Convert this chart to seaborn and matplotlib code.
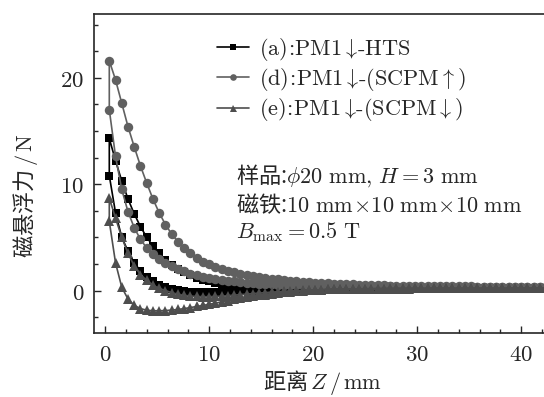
import numpy as np
import seaborn as sns
import matplotlib.pyplot as plt
from matplotlib.ticker import MultipleLocator, FuncFormatter

# distance grid (mm), measured every 0.6 mm
Z = np.round(0.4 + 0.6 * np.arange(71), 2)

# (a) PM1 down - HTS : approach (upper) and return (lower) branches
a_app = [14.3, 12.2, 10.3, 8.6, 7.2, 6.0, 5.0, 4.2, 3.5, 2.9,
         2.4, 2.0, 1.7, 1.45, 1.2, 1.0, 0.85, 0.74, 0.65, 0.58,
         0.52, 0.47, 0.43, 0.4, 0.37, 0.35, 0.33, 0.31, 0.3, 0.29,
         0.28, 0.27, 0.27, 0.26, 0.26, 0.25, 0.25, 0.24, 0.24, 0.24,
         0.23, 0.23, 0.23, 0.22, 0.22, 0.22, 0.22, 0.21, 0.21, 0.21,
         0.21, 0.21, 0.2, 0.2, 0.2, 0.2, 0.2, 0.2, 0.2, 0.2,
         0.2, 0.2, 0.2, 0.2, 0.2, 0.2, 0.2, 0.2, 0.2, 0.2, 0.2]
a_ret = [10.8, 7.3, 5.0, 3.7, 2.6, 1.85, 1.3, 0.85, 0.55, 0.3,
         0.15, 0.03, -0.05, -0.1, -0.13, -0.15, -0.15, -0.15, -0.14, -0.12,
         -0.1, -0.07, -0.04, -0.01, 0.02, 0.05, 0.07, 0.09, 0.11, 0.12,
         0.13, 0.14, 0.15, 0.16, 0.16, 0.17, 0.17, 0.18, 0.18, 0.18,
         0.19, 0.19, 0.19, 0.19, 0.2, 0.2, 0.2, 0.2, 0.2, 0.2,
         0.2, 0.2, 0.2, 0.2, 0.2, 0.2, 0.2, 0.2, 0.2, 0.2,
         0.2, 0.2, 0.2, 0.2, 0.2, 0.2, 0.2, 0.2, 0.2, 0.2, 0.2]

# (d) PM1 down - (SCPM up)
d_app = [21.6, 19.8, 17.6, 15.4, 13.5, 11.7, 10.1, 8.6, 7.3, 6.2,
         5.3, 4.6, 4.0, 3.5, 3.05, 2.7, 2.45, 2.2, 2.0, 1.85,
         1.7, 1.58, 1.47, 1.37, 1.28, 1.2, 1.12, 1.05, 0.98, 0.92,
         0.87, 0.82, 0.78, 0.74, 0.7, 0.67, 0.64, 0.61, 0.59, 0.57,
         0.55, 0.53, 0.51, 0.5, 0.48, 0.47, 0.46, 0.45, 0.44, 0.43,
         0.42, 0.42, 0.41, 0.4, 0.4, 0.39, 0.39, 0.38, 0.38, 0.37,
         0.37, 0.36, 0.36, 0.36, 0.35, 0.35, 0.35, 0.34, 0.34, 0.34, 0.33]
d_ret = [17.0, 12.6, 9.5, 7.4, 5.9, 4.8, 4.0, 3.4, 2.95, 2.6,
         2.3, 2.05, 1.8, 1.6, 1.45, 1.3, 1.18, 1.08, 0.99, 0.92,
         0.85, 0.79, 0.74, 0.7, 0.66, 0.62, 0.59, 0.56, 0.54, 0.52,
         0.5, 0.48, 0.47, 0.46, 0.45, 0.44, 0.43, 0.42, 0.41, 0.41,
         0.4, 0.4, 0.39, 0.39, 0.38, 0.38, 0.37, 0.37, 0.36, 0.36,
         0.36, 0.35, 0.35, 0.35, 0.34, 0.34, 0.34, 0.33, 0.33, 0.33,
         0.33, 0.32, 0.32, 0.32, 0.32, 0.31, 0.31, 0.31, 0.31, 0.3, 0.3]

# (e) PM1 down - (SCPM down)
e_app = [8.7, 6.8, 5.0, 3.5, 2.3, 1.5, 0.95, 0.5, 0.2, 0.0,
         -0.2, -0.35, -0.45, -0.52, -0.56, -0.58, -0.58, -0.56, -0.53, -0.49,
         -0.44, -0.39, -0.34, -0.29, -0.24, -0.19, -0.15, -0.11, -0.07, -0.04,
         -0.01, 0.02, 0.04, 0.06, 0.08, 0.1, 0.11, 0.12, 0.13, 0.14,
         0.15, 0.16, 0.17, 0.17, 0.18, 0.18, 0.19, 0.19, 0.19, 0.2,
         0.2, 0.2, 0.2, 0.2, 0.2, 0.2, 0.2, 0.2, 0.2, 0.2,
         0.2, 0.2, 0.2, 0.2, 0.2, 0.2, 0.2, 0.2, 0.2, 0.2, 0.2]
e_ret = [6.5, 2.6, 0.3, -0.8, -1.4, -1.7, -1.85, -1.9, -1.9, -1.88,
         -1.84, -1.78, -1.7, -1.6, -1.5, -1.4, -1.3, -1.18, -1.06, -0.95,
         -0.84, -0.74, -0.64, -0.55, -0.46, -0.38, -0.3, -0.23, -0.17, -0.11,
         -0.06, -0.02, 0.02, 0.05, 0.08, 0.1, 0.12, 0.14, 0.15, 0.16,
         0.17, 0.18, 0.18, 0.19, 0.19, 0.2, 0.2, 0.2, 0.2, 0.2,
         0.2, 0.2, 0.2, 0.2, 0.2, 0.2, 0.2, 0.2, 0.2, 0.2,
         0.2, 0.2, 0.2, 0.2, 0.2, 0.2, 0.2, 0.2, 0.2, 0.2, 0.2]

labels = [r"$\mathrm{(a)\!:\!PM1}\downarrow\!\mathrm{\text{-}HTS}$",
          r"$\mathrm{(d)\!:\!PM1}\downarrow\!\mathrm{\text{-}(SCPM}\uparrow\mathrm{)}$",
          r"$\mathrm{(e)\!:\!PM1}\downarrow\!\mathrm{\text{-}(SCPM}\downarrow\mathrm{)}$"]
colors = ["#000000", "#606060", "#4e4e4e"]
markers = ["s", "o", "^"]
msizes = [5.5, 6.8, 7.2]

sns.set_style("ticks")
plt.rcParams["font.family"] = ["Noto Sans CJK SC", "DejaVu Serif"]
plt.rcParams["mathtext.fontset"] = "cm"
plt.rcParams["axes.linewidth"] = 1.2

fig = plt.figure(figsize=(5.44, 3.97), dpi=100)
ax = fig.add_axes([0.173, 0.161, 0.827, 0.804])

series = [(a_app, a_ret), (d_app, d_ret), (e_app, e_ret)]
for (app, ret), lab, c, m, ms in zip(series, labels, colors, markers, msizes):
    # the loop: approach from far to near, then back out
    z = np.concatenate([Z[:len(app)][::-1], Z[:len(ret)]])
    f = np.concatenate([np.array(app)[::-1], ret])
    sns.lineplot(x=z, y=f, sort=False, estimator=None, color=c, marker=m,
                 markersize=ms, markeredgewidth=0, markeredgecolor=c,
                 linewidth=1.2, label=lab, ax=ax)

ax.set_xlim(-1.06, 42.2)
ax.set_ylim(-4, 26)
ax.xaxis.set_major_locator(MultipleLocator(10))
ax.xaxis.set_minor_locator(MultipleLocator(2))
ax.yaxis.set_major_locator(MultipleLocator(10))
ax.yaxis.set_minor_locator(MultipleLocator(2.5))
fmt = FuncFormatter(lambda v, p: f"${v:g}$")
ax.xaxis.set_major_formatter(fmt)
ax.yaxis.set_major_formatter(fmt)
ax.tick_params(which="major", direction="in", length=5, width=1, labelsize=16.5, pad=7)
ax.tick_params(which="minor", direction="in", length=3, width=1)
ax.spines["right"].set_visible(False)

ax.set_xlabel(r"距离$\,Z\,/\,\mathrm{mm}$", fontsize=16)
ax.xaxis.set_label_coords(0.507, -0.11)
ax.set_ylabel(r"磁悬浮力$\,/\,\mathrm{N}$", fontsize=16)
ax.yaxis.set_label_coords(-0.12, 0.43)

ax.legend(loc="upper left", bbox_to_anchor=(0.399, 0.91), bbox_transform=fig.transFigure,
          frameon=False, fontsize=16, handlelength=1.45, handletextpad=0.45,
          labelspacing=0.15, borderpad=0, borderaxespad=0, markerscale=0.7)

fig.text(0.433, 0.557, r"样品:$\phi 20\ \mathrm{mm},\, H=3\ \mathrm{mm}$",
         fontsize=16, va="center")
fig.text(0.433, 0.484, r"磁铁:$10\ \mathrm{mm}\!\times\! 10\ \mathrm{mm}\!\times\! 10\ \mathrm{mm}$",
         fontsize=16, va="center")
fig.text(0.433, 0.416, r"$B_{\mathrm{max}}=0.5\ \mathrm{T}$", fontsize=16, va="center")

fig.savefig("out.png", dpi=100)
